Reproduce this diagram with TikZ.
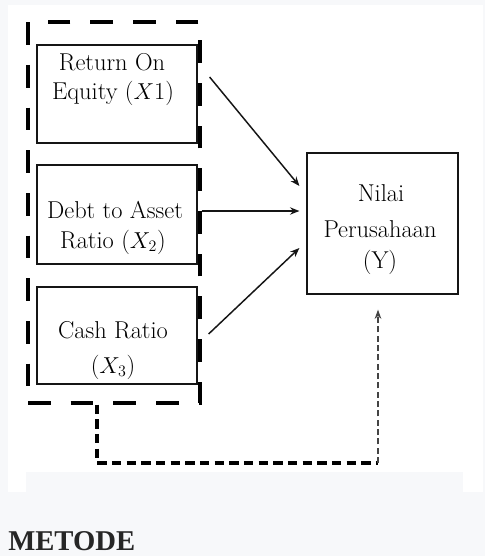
\documentclass[tikz,border=0pt]{standalone}
\usepackage{fontspec}
\newfontfamily\metfont{Liberation Serif}
\usetikzlibrary{arrows.meta,calc}
\definecolor{pagegray}{HTML}{F7F8FA}
\definecolor{ink}{HTML}{151515}
\definecolor{headink}{HTML}{262626}
\tikzset{
  varbox/.style={draw=ink, line width=0.9pt, minimum width=120pt, inner sep=0pt},
  txt/.style={anchor=base, inner sep=0pt, font=\fontsize{18.3}{22}\selectfont},
  grpbox/.style={draw=black, line width=2.3pt, dash pattern=on 17pt off 15pt, inner sep=0pt,
                 minimum width=129pt, minimum height=285.75pt},
  arr/.style={draw=ink, line width=1.1pt, -{Stealth[length=7pt,width=5.5pt]}},
  thickdash/.style={draw=black, line width=2.3pt, dash pattern=on 7pt off 4pt},
  thindash/.style={draw=ink!80, line width=1.1pt, dash pattern=on 4.5pt off 2.5pt,
                   -{Stealth[length=7pt,width=5pt]}}
}
\begin{document}
\begin{tikzpicture}[x=0.75pt,y=-0.75pt]
\useasboundingbox (0,0) rectangle (485,556);
\fill[pagegray] (0,0) rectangle (485,556);
\fill[white] (8,5) rectangle (483,492);
\fill[pagegray] (26,472) rectangle (463,492);

% group box
\node[grpbox] (grp) at (114,212.5) {};

% variable boxes
\node[varbox, minimum height=73.5pt] (b1) at (117,94) {};
\node[varbox, minimum height=74.25pt] (b2) at (117,214.5) {};
\node[varbox, minimum height=72.75pt] (b3) at (117,335.5) {};
\node[varbox, minimum width=113.25pt, minimum height=105.75pt] (ny) at (382.5,223.5) {};

% texts
\node[txt] (t1a) at (112,71) {Return On};
\node[txt] (t1b) at (113,100) {Equity ($X$1)};
\node[txt] (t2a) at (115,218) {Debt to Asset};
\node[txt] (t2b) at (113,248) {Ratio ($X_2$)};
\node[txt] (t3a) at (113,338) {Cash Ratio};
\node[txt] (t3b) at (113,373) {($X_3$)};
\node[txt] (tya) at (381,201) {Nilai};
\node[txt] (tyb) at (380,237) {Perusahaan};
\node[txt] (tyc) at (380,268) {(Y)};

% arrows
\draw[arr] ($(b1.east)+(12,-17)$) -- ($(ny.west)+(-7,-37.5)$);
\draw[arr] ($(b2.east)+(4,-3.5)$) -- ($(ny.west)+(-7,-12.5)$);
\draw[arr] ($(b3.east)+(11,-1.5)$) -- ($(ny.west)+(-7,24.5)$);

% feedback connector
\coordinate (c1) at (97,463);
\coordinate (c2) at (378,463);
\draw[thickdash] (grp.south -| c1) -- (c1) -- (c2);
\draw[thindash] (c2) -- ($(ny.south -| c2)+(0,15)$);

% heading
\node[anchor=base west, inner sep=0pt, text=headink,
      font=\metfont\bfseries\fontsize{21.5}{26}\selectfont] (met) at (8,550) {METODE};
\end{tikzpicture}
\end{document}
